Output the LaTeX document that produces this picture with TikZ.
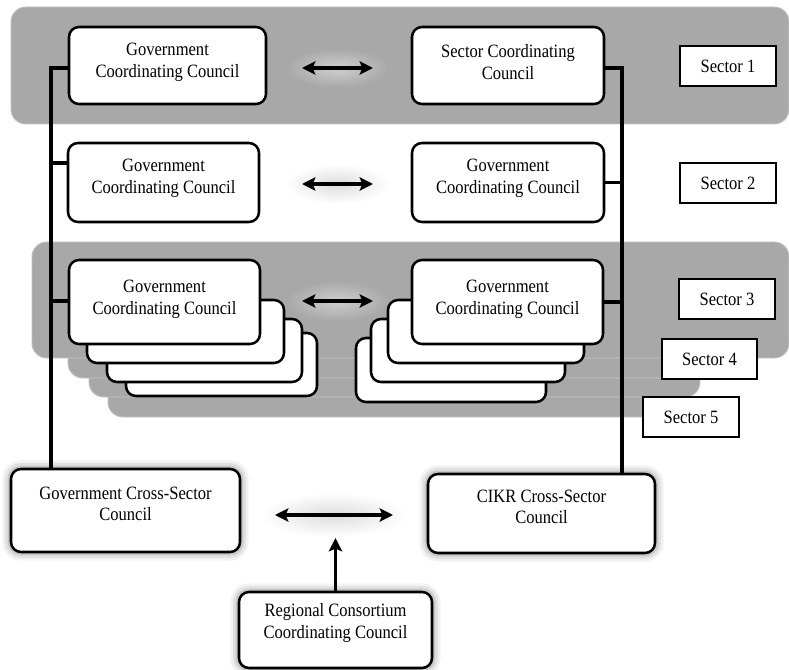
\documentclass[tikz,border=0pt]{standalone}
\usepackage{fontspec}
\setmainfont{Liberation Serif}[FakeStretch=0.88]
\usetikzlibrary{arrows.meta,fit,fadings}

\definecolor{bandgray}{RGB}{168,168,168}
\definecolor{bandedge}{RGB}{196,196,196}
\newcommand\cardfont{\fontsize{14.1pt}{16.3pt}\selectfont}

% soft radial fade used for the halos behind the arrows
\tikzfading[name=halofade, inner color=transparent!15, outer color=transparent!100]

\begin{document}
\begin{tikzpicture}[x=0.75pt,y=-0.75pt,
  band/.style={rounded corners=11pt, fill=bandgray, draw=bandedge, line width=0.7pt, inner sep=0pt},
  card/.style={rounded corners=7.5pt, fill=white, draw=black, line width=1.9pt, inner sep=0pt},
  glowcard/.style={card,
    preaction={draw=black, draw opacity=0.05, line width=13pt},
    preaction={draw=black, draw opacity=0.07, line width=9pt},
    preaction={draw=black, draw opacity=0.11, line width=5pt}},
  cardtext/.style={align=center, font=\cardfont, inner sep=0pt},
  tag/.style={draw=black, line width=0.9pt, fill=white, inner sep=0pt},
  tagtext/.style={font=\cardfont, inner sep=0pt},
  link/.style={draw=black, line width=2.3pt},
  biarrow/.style={line width=2.6pt,
    arrows={Stealth[length=10pt,width=10pt,inset=2pt]-Stealth[length=10pt,width=10pt,inset=2pt]}},
  uparrow/.style={line width=2.6pt, arrows={-Stealth[length=10pt,width=10pt,inset=2pt]}},
  halo/.style={fill=black!16, path fading=halofade}
]
\useasboundingbox (0,0) rectangle (789,670);

% ---------- sector bands ----------
\node[band, fit={(11,7) (789,124)}] (band1) {};
\node[band, fit={(108,300) (690,417)}] (band5) {};
\node[band, fit={(89,290) (700,397)}] (band4b) {};
\node[band, fit={(68,280) (720,378)}] (band4a) {};
\node[band, fit={(32,242) (789,358)}] (band3) {};

% ---------- arrow halos ----------
\fill[halo] (337.5,68) ellipse (52 and 20);
\fill[halo] (337.5,184) ellipse (52 and 20);
\fill[halo] (337.5,301) ellipse (52 and 20);
\fill[halo] (334,515) ellipse (74 and 22);

% ---------- sector 1 ----------
\node[card, fit={(69,27) (266,104)}] (g1) {};
\node[cardtext] (g1t) at ([yshift=2.5pt]g1.center) {Government\\Coordinating Council};
\node[card, fit={(412,27) (604,104)}] (s1) {};
\node[cardtext] (s1t) at ([yshift=2.5pt]s1.center) {Sector Coordinating\\Council};
\node[tag, fit={(680,46) (776,86)}] (lab1) {};
\node[tagtext] (lab1t) at (lab1.center) {Sector 1};

% ---------- sector 2 ----------
\node[card, fit={(68,143) (259,222)}] (g2) {};
\node[cardtext] (g2t) at ([yshift=3pt]g2.center) {Government\\Coordinating Council};
\node[card, fit={(412,143) (604,222)}] (s2) {};
\node[cardtext] (s2t) at ([yshift=3pt]s2.center) {Government\\Coordinating Council};
\node[tag, fit={(680,163) (776,203)}] (lab2) {};
\node[tagtext] (lab2t) at (lab2.center) {Sector 2};

% ---------- sectors 3 to 5: stacked councils ----------
\node[card, fit={(126,333) (317,396)}] (gc4) {};
\node[card, fit={(107,319) (302,382)}] (gc3) {};
\node[card, fit={(87,300) (284,363)}] (gc2) {};
\node[card, fit={(69,260) (260,344)}] (g3) {};
\node[cardtext] (g3t) at ([yshift=2pt]g3.center) {Government\\Coordinating Council};

\node[card, fit={(356,338) (546,402)}] (sc4) {};
\node[card, fit={(371,319) (565,382)}] (sc3) {};
\node[card, fit={(388,300) (584,363)}] (sc2) {};
\node[card, fit={(412,260) (603,344)}] (s3) {};
\node[cardtext] (s3t) at ([yshift=2pt]s3.center) {Government\\Coordinating Council};

\node[tag, fit={(679,279) (775,319)}] (lab3) {};
\node[tagtext] (lab3t) at (lab3.center) {Sector 3};
\node[tag, fit={(662,339) (757,379)}] (lab4) {};
\node[tagtext] (lab4t) at (lab4.center) {Sector 4};
\node[tag, fit={(643,397) (739,437)}] (lab5) {};
\node[tagtext] (lab5t) at (lab5.center) {Sector 5};

% ---------- cross-sector councils ----------
\node[glowcard, fit={(11,469) (240,552)}] (gcs) {};
\node[cardtext] (gcst) at ([yshift=5pt]gcs.center) {Government Cross-Sector\\Council};
\node[glowcard, fit={(428,474) (655,553)}] (cikr) {};
\node[cardtext] (cikrt) at ([yshift=5pt]cikr.center) {CIKR Cross-Sector\\Council};
\node[glowcard, fit={(239,592) (432,668)}] (rcc) {};
\node[cardtext] (rcct) at ([yshift=5pt]rcc.center) {Regional Consortium\\Coordinating Council};

% ---------- vertical spines and their stubs ----------
\coordinate (ltop) at (51,68);
\coordinate (rtop) at (622,68);
\coordinate (l2) at (51,163);
\coordinate (l3) at (51,301);

\draw[link] (g1.west |- ltop) -- (ltop) -- (ltop |- gcs.north);
\draw[link] (l2) -- (l2 -| g2.west);
\draw[link] (l3) -- (l3 -| g3.west);
\draw[link] (s1.east |- rtop) -- (rtop) -- (rtop |- cikr.north);
\draw[link] (s2.east) -- (s2.east -| rtop);
\draw[link] (s3.east) -- (s3.east -| rtop);

% ---------- partnership arrows ----------
\coordinate (a1l) at (302,68);  \coordinate (a1r) at (373,68);
\coordinate (a2l) at (302,184); \coordinate (a2r) at (373,184);
\coordinate (a3l) at (302,301); \coordinate (a3r) at (373,301);
\coordinate (a4l) at (275,515); \coordinate (a4r) at (393,515);
\coordinate (uptip) at (335.5,538);

\draw[biarrow] (a1l) -- (a1r);
\draw[biarrow] (a2l) -- (a2r);
\draw[biarrow] (a3l) -- (a3r);
\draw[biarrow] (a4l) -- (a4r);
\draw[uparrow] (rcc.north) -- (uptip);
\end{tikzpicture}
\end{document}
